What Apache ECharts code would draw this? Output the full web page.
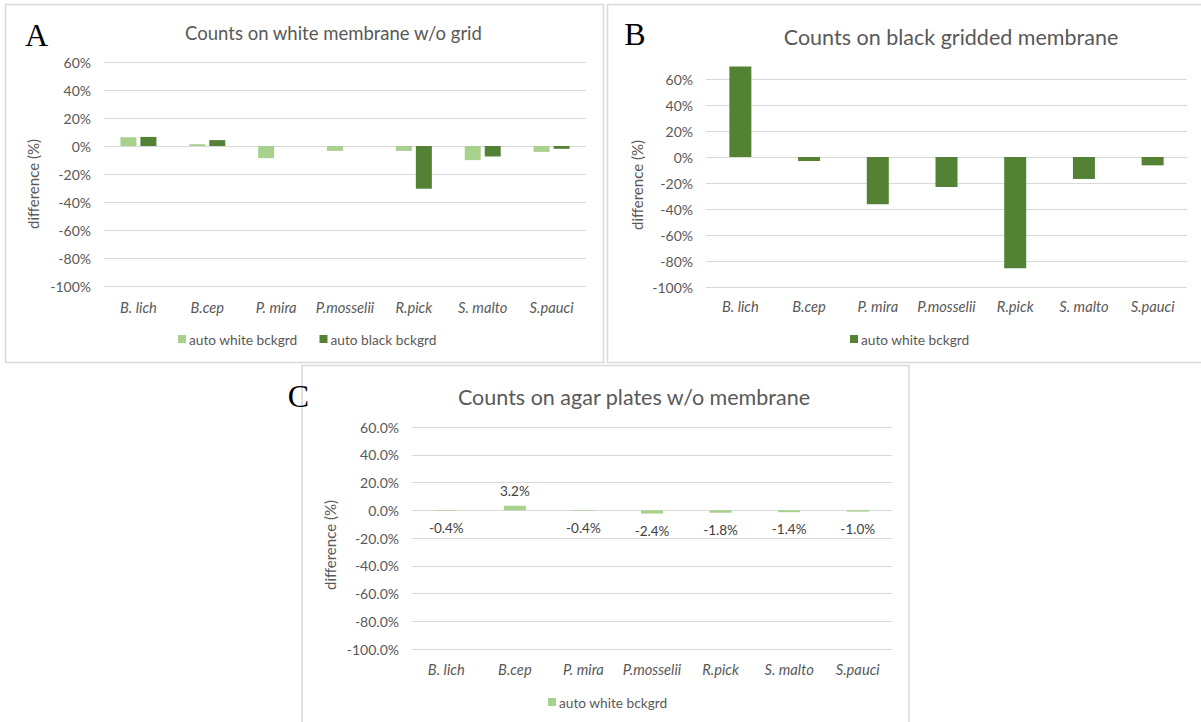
<!DOCTYPE html>
<html><head><meta charset="utf-8">
<script src="https://cdn.jsdelivr.net/npm/echarts@6/dist/echarts.min.js"></script>
<style>html,body{margin:0;padding:0;background:#fff}#c{width:1201px;height:722px}</style>
</head><body><div id="c"></div>
<script>
// ---- data ----
const categories = ['B. lich', 'B.cep', 'P. mira', 'P.mosselii', 'R.pick', 'S. malto', 'S.pauci'];
const panelA_white = [6.3, 1.3, -8.7, -3.5, -3.5, -10.1, -4.2];
const panelA_black = [6.5, 4.2, 0, 0, -30.5, -7.5, -2.0];
const panelB_white = [69.7, -3.1, -36.4, -23.1, -85.6, -16.9, -6.4];
const panelC_white = [-0.4, 3.2, -0.4, -2.4, -1.8, -1.4, -1.0];
const yMin = -100, yMax = 60, yStep = 20;
const titles = ['Counts on white membrane w/o grid', 'Counts on black gridded membrane', 'Counts on agar plates w/o membrane'];
const letters = ['A', 'B', 'C'];
const yName = 'difference (%)';
const nameWhite = 'auto white bckgrd', nameBlack = 'auto black bckgrd';

// ---- styles ----
const LIGHT = '#a9d18e', DARK = '#548235', TXT = '#595959', GRID = '#d9d9d9';
const SANS = 'Lato, "Open Sans", sans-serif';
const SERIF = '"Liberation Serif", "DejaVu Serif", serif';

const grids = [
  {left: 104, top: 62, width: 482, height: 224},
  {left: 706, top: 79, width: 481, height: 208},
  {left: 412, top: 427, width: 480, height: 222}
];
const labelMargins = [13, 11, 12];
const decimals = [0, 0, 1];

const xAxis = grids.map((g, i) => ({
  type: 'category', gridIndex: i, data: categories,
  axisLine: {show: false, onZero: false}, axisTick: {show: false},
  axisLabel: {color: TXT, fontSize: 14.7, fontStyle: 'italic', fontFamily: SANS, margin: labelMargins[i], interval: 0}
}));
const yAxis = grids.map((g, i) => ({
  type: 'value', gridIndex: i, min: yMin, max: yMax, interval: yStep,
  axisLine: {show: false}, axisTick: {show: false},
  splitLine: {lineStyle: {color: GRID, width: 1}},
  axisLabel: {color: TXT, fontSize: 14, fontFamily: SANS, margin: 13,
    formatter: v => v.toFixed(decimals[i]) + '%'}
}));

const series = [
  {name: nameWhite, type: 'bar', xAxisIndex: 0, yAxisIndex: 0, data: panelA_white,
   barWidth: 16, barGap: '25%', itemStyle: {color: LIGHT}, clip: false},
  {name: nameBlack, type: 'bar', xAxisIndex: 0, yAxisIndex: 0, data: panelA_black,
   barWidth: 16, barGap: '25%', itemStyle: {color: DARK}, clip: false},
  {name: nameWhite, type: 'bar', xAxisIndex: 1, yAxisIndex: 1, data: panelB_white,
   barWidth: 22, itemStyle: {color: DARK}, clip: false},
  {name: nameWhite, type: 'bar', xAxisIndex: 2, yAxisIndex: 2, clip: false,
   data: panelC_white.map(v => ({value: v, label: {position: v >= 0 ? 'top' : 'bottom', distance: v >= 0 ? 8 : 10}})),
   barWidth: 22, itemStyle: {color: LIGHT},
   label: {show: true, color: '#404040', fontSize: 13.5, fontFamily: SANS,
     formatter: p => p.value.toFixed(1) + '%'}}
];

const legendBase = {
  orient: 'horizontal', icon: 'rect', itemWidth: 8, itemHeight: 8, itemGap: 22,
  padding: 0, selectedMode: false,
  textStyle: {color: TXT, fontSize: 13.7, fontFamily: SANS, padding: [0, 0, 0, -2]}
};
const legend = [
  Object.assign({}, legendBase, {left: 178, top: 332,
    data: [{name: nameWhite, itemStyle: {color: LIGHT}}, {name: nameBlack, itemStyle: {color: DARK}}]}),
  Object.assign({}, legendBase, {left: 850, top: 332,
    data: [{name: nameWhite, itemStyle: {color: DARK}}]}),
  Object.assign({}, legendBase, {left: 548, top: 695,
    data: [{name: nameWhite, itemStyle: {color: LIGHT}}]})
];

const boxes = [
  {x: 5.5, y: 4.5, width: 598, height: 358},
  {x: 607.5, y: 4.5, width: 600, height: 358},
  {x: 302, y: 365.5, width: 607, height: 370}
];
const titlePos = [[333.5, 33, 18.5], [951, 37, 21.5], [634, 397, 21.5]];
const letterPos = [[36.5, 35], [635, 34], [298.5, 395.5]];
const yNamePos = [[33, 184], [637, 185], [330, 545]];

const graphic = [];
boxes.forEach(b => graphic.push({type: 'rect', shape: b, z: 0, silent: true,
  style: {fill: 'none', stroke: GRID, lineWidth: 1.6}}));
titles.forEach((t, i) => graphic.push({type: 'text', x: titlePos[i][0], y: titlePos[i][1], z: 10,
  style: {text: t, fill: TXT, font: titlePos[i][2] + 'px ' + SANS, textAlign: 'center', textVerticalAlign: 'middle'}}));
letters.forEach((t, i) => graphic.push({type: 'text', x: letterPos[i][0], y: letterPos[i][1], z: 20,
  style: {text: t, fill: '#000', font: '32px ' + SERIF, textAlign: 'center', textVerticalAlign: 'middle'}}));
yNamePos.forEach(p => graphic.push({type: 'text', x: p[0], y: p[1], rotation: Math.PI / 2, z: 10,
  style: {text: yName, fill: TXT, font: '15px ' + SANS, textAlign: 'center', textVerticalAlign: 'middle'}}));

const chart = echarts.init(document.getElementById('c'), null, {renderer: 'svg'});
chart.setOption({
  backgroundColor: '#fff', animation: false,
  grid: grids, xAxis: xAxis, yAxis: yAxis, series: series, legend: legend, graphic: graphic
});
</script></body></html>
